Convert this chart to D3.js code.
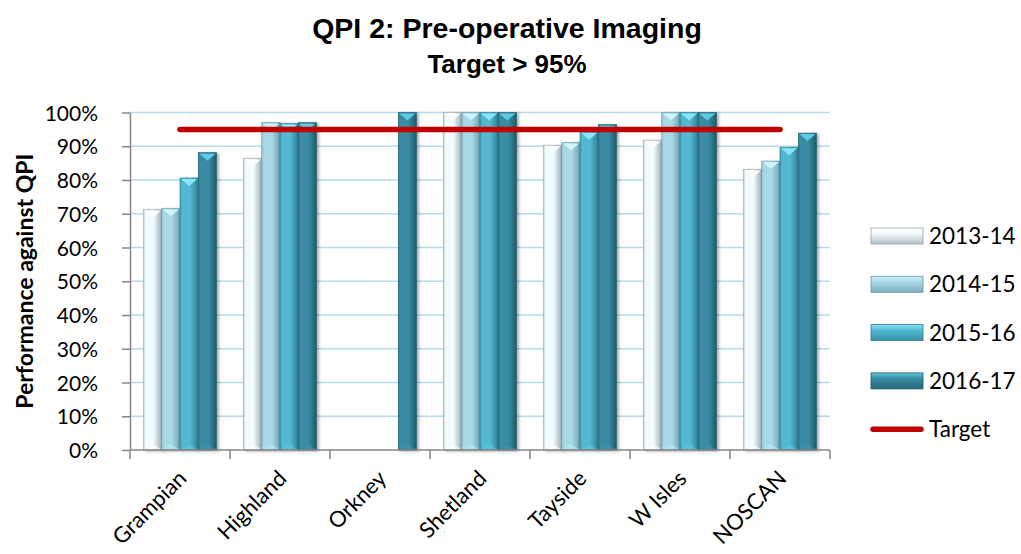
<!DOCTYPE html>
<html>
<head>
<meta charset="utf-8">
<script src="https://cdn.jsdelivr.net/npm/d3@7"></script>
<style>
  body { margin: 0; background: #fff; }
  svg { display: block; }
  .tick text { font-family: Lato, "Open Sans", sans-serif; }
</style>
</head>
<body>
<div id="chart"></div>
<script>
// data
const categories = ["Grampian", "Highland", "Orkney", "Shetland", "Tayside", "W Isles", "NOSCAN"];
const seriesNames = ["2013-14", "2014-15", "2015-16", "2016-17"];
const v2013 = [0.712, 0.864, null, 1.0, 0.903, 0.918, 0.831];
const v2014 = [0.716, 0.970, null, 1.0, 0.911, 1.0, 0.856];
const v2015 = [0.806, 0.968, null, 1.0, 0.943, 1.0, 0.897];
const v2016 = [0.881, 0.970, 1.0, 1.0, 0.964, 1.0, 0.939];
const targetValues = [0.95, 0.95, 0.95, 0.95, 0.95, 0.95, 0.95];
const yTicks = [0, 0.1, 0.2, 0.3, 0.4, 0.5, 0.6, 0.7, 0.8, 0.9, 1.0];

const allSeries = [v2013, v2014, v2015, v2016];

// bar colours: left edge, middle, right edge, top chevron
const colours = [
    ["#c3d2d8", "#f2fbfd", "#b3c3ca", "#ffffff"],
    ["#8cc2d0", "#a9d9e6", "#7cb1bf", "#cdf3fb"],
    ["#3d9fb9", "#55b8d1", "#3790a8", "#86e6fa"],
    ["#2d7d91", "#388ba1", "#25697a", "#5ccbe3"]
];

let width = 1021, height = 554;
let margin = { top: 112.5, left: 130, right: 191, bottom: 104 };

let svg = d3.select("#chart").append("svg")
    .attr("width", width)
    .attr("height", height);

let defs = svg.append("defs");
colours.forEach(function (c, i) {
    let g = defs.append("linearGradient").attr("id", "bar" + i)
        .attr("x1", 0).attr("x2", 1).attr("y1", 0).attr("y2", 0);
    g.append("stop").attr("offset", "0%").attr("stop-color", c[0]);
    g.append("stop").attr("offset", "12%").attr("stop-color", c[1]);
    g.append("stop").attr("offset", "55%").attr("stop-color", c[1]);
    g.append("stop").attr("offset", "88%").attr("stop-color", c[2]);
    g.append("stop").attr("offset", "100%").attr("stop-color", d3.color(c[2]).darker(0.6));

    let lg = defs.append("linearGradient").attr("id", "leg" + i)
        .attr("x1", 0).attr("x2", 0).attr("y1", 0).attr("y2", 1);
    lg.append("stop").attr("offset", "0%").attr("stop-color", c[3]);
    lg.append("stop").attr("offset", "35%").attr("stop-color", c[1]);
    lg.append("stop").attr("offset", "100%").attr("stop-color", c[2]);
});

let shadow = defs.append("filter").attr("id", "shadow")
    .attr("x", "-20%").attr("y", "-5%").attr("width", "150%").attr("height", "110%");
shadow.append("feDropShadow")
    .attr("dx", 2).attr("dy", 1).attr("stdDeviation", 1.6)
    .attr("flood-color", "#000").attr("flood-opacity", 0.35);

// ========= scales ============
let x0 = d3.scaleBand()
    .domain(categories)
    .range([margin.left, width - margin.right]);

let x1 = d3.scaleBand()
    .domain(seriesNames)
    .range([0, x0.bandwidth()])
    .paddingOuter(0.74);

let y = d3.scaleLinear()
    .domain([0, 1])
    .range([height - margin.bottom, margin.top]);

// ========= grid ============
svg.append("g")
    .selectAll("line")
    .data(yTicks.slice(1))
    .enter().append("line")
    .attr("x1", margin.left)
    .attr("x2", width - margin.right)
    .attr("y1", function (d) { return y(d); })
    .attr("y2", function (d) { return y(d); })
    .attr("stroke", "#b5dce7")
    .attr("stroke-width", 1.5);

// ========= bars ============
let groups = svg.append("g")
    .selectAll("g")
    .data(categories)
    .enter().append("g")
    .attr("transform", function (d) { return "translate(" + x0(d) + ",0)"; });

groups.each(function (cat, ci) {
    let grp = d3.select(this);
    allSeries.forEach(function (vals, si) {
        let v = vals[ci];
        if (v == null) return;
        let bx = x1(seriesNames[si]);
        let bw = x1.bandwidth();
        let top = y(v);
        let bottom = y(0);
        let bar = grp.append("g").attr("filter", "url(#shadow)");
        bar.append("rect")
            .attr("x", bx)
            .attr("y", top)
            .attr("width", bw)
            .attr("height", bottom - top)
            .attr("fill", "url(#bar" + si + ")")
            .attr("stroke", d3.color(colours[si][2]).darker(0.4))
            .attr("stroke-width", 0.6);
        // top chevron
        bar.append("path")
            .attr("d", "M" + (bx + 1) + "," + (top + 1) + "L" + (bx + bw - 1) + "," + (top + 1) +
                "L" + (bx + bw / 2) + "," + (top + 8) + "Z")
            .attr("fill", colours[si][3]);
        // bottom bevel
        bar.append("path")
            .attr("d", "M" + (bx + 1) + "," + (bottom - 1) + "L" + (bx + bw - 1) + "," + (bottom - 1) +
                "L" + (bx + bw / 2) + "," + (bottom - 6) + "Z")
            .attr("fill", d3.color(colours[si][1]).brighter(0.2))
            .attr("opacity", 0.6);
    });
});

// ========= target ============
let targetLine = d3.line()
    .x(function (d, i) { return x0(categories[i]) + x0.bandwidth() / 2; })
    .y(function (d) { return y(d); });

svg.append("path")
    .datum(targetValues)
    .attr("d", targetLine)
    .attr("fill", "none")
    .attr("stroke", "#c00000")
    .attr("stroke-width", 5.5)
    .attr("stroke-linecap", "round");

// ========= axes ============
let yAxis = svg.append("g")
    .attr("transform", "translate(" + margin.left + ",0)")
    .call(d3.axisLeft(y).tickValues(yTicks).tickFormat(d3.format(".0%")).tickSize(8).tickSizeOuter(0));
yAxis.select(".domain").attr("stroke", "#868686").attr("stroke-width", 1.5);
yAxis.selectAll(".tick line").attr("stroke", "#868686").attr("stroke-width", 1.5);
yAxis.selectAll(".tick text")
    .attr("x", -32)
    .attr("dy", "0.36em")
    .style("font-size", "21px")
    .attr("fill", "#000");

let xAxis = svg.append("g")
    .attr("transform", "translate(0," + y(0) + ")");
xAxis.append("line")
    .attr("x1", margin.left).attr("x2", width - margin.right)
    .attr("stroke", "#868686").attr("stroke-width", 1.5);
xAxis.selectAll(".xtick")
    .data(categories.concat(["end"]))
    .enter().append("line")
    .attr("x1", function (d, i) { return margin.left + i * x0.step(); })
    .attr("x2", function (d, i) { return margin.left + i * x0.step(); })
    .attr("y1", 0).attr("y2", 9)
    .attr("stroke", "#868686").attr("stroke-width", 1.5);

xAxis.selectAll(".xlabel")
    .data(categories)
    .enter().append("text")
    .attr("transform", function (d) {
        return "translate(" + (x0(d) + x0.bandwidth() / 2 - 3) + ",19) rotate(-45)";
    })
    .attr("text-anchor", "end")
    .attr("dy", "0.7em")
    .style("font-family", "Lato, 'Open Sans', sans-serif")
    .style("font-size", "22px")
    .text(function (d) { return d; });

// ========= titles ============
svg.append("text")
    .attr("x", 507).attr("y", 38)
    .attr("text-anchor", "middle")
    .style("font-family", "'Liberation Sans', Arial, sans-serif")
    .style("font-weight", "bold")
    .style("font-size", "28.5px")
    .text("QPI 2: Pre-operative Imaging");

svg.append("text")
    .attr("x", 507).attr("y", 73)
    .attr("text-anchor", "middle")
    .style("font-family", "'Liberation Sans', Arial, sans-serif")
    .style("font-weight", "bold")
    .style("font-size", "26px")
    .text("Target > 95%");

svg.append("text")
    .attr("transform", "translate(33," + ((y(0) + y(1)) / 2) + ") rotate(-90)")
    .attr("text-anchor", "middle")
    .style("font-family", "Lato, 'Open Sans', sans-serif")
    .style("font-weight", "bold")
    .style("font-size", "23px")
    .text("Performance against QPI");

// ========= legend ============
let legend = svg.append("g").attr("transform", "translate(871,236)");
seriesNames.forEach(function (s, i) {
    let row = legend.append("g").attr("transform", "translate(0," + (i * 48.3) + ")");
    row.append("rect")
        .attr("x", 0).attr("y", -8)
        .attr("width", 52).attr("height", 16)
        .attr("fill", "url(#leg" + i + ")")
        .attr("stroke", d3.color(colours[i][2]).darker(0.5))
        .attr("stroke-width", 0.8);
    row.append("text")
        .attr("x", 58).attr("y", 8)
        .style("font-family", "Lato, 'Open Sans', sans-serif")
        .style("font-size", "22.5px")
        .text(s);
});
let tRow = legend.append("g").attr("transform", "translate(0," + (4 * 48.3) + ")");
tRow.append("line")
    .attr("x1", 2).attr("x2", 50)
    .attr("stroke", "#c00000").attr("stroke-width", 5.5)
    .attr("stroke-linecap", "round");
tRow.append("text")
    .attr("x", 58).attr("y", 8)
    .style("font-family", "Lato, 'Open Sans', sans-serif")
    .style("font-size", "22.5px")
    .text("Target");
</script>
</body>
</html>
